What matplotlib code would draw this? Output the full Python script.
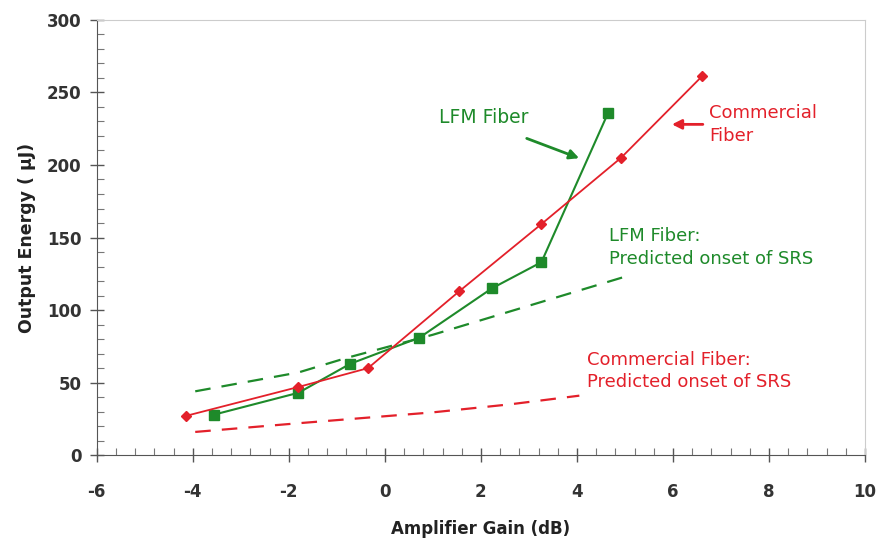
import matplotlib
matplotlib.use('Agg')
import matplotlib.pyplot as plt
from matplotlib.ticker import MultipleLocator

plt.rcParams['font.family'] = ['DejaVu Sans']
plt.rcParams['axes.unicode_minus'] = False

red = '#e3202a'
green = '#1e8a2a'

# measured output energy vs amplifier gain
comm_gain = [-4.15, -1.8, -0.35, 1.55, 3.25, 4.92, 6.6]
comm_energy = [27, 47, 60, 113, 159, 205, 261]

lfm_gain = [-3.55, -1.8, -0.72, 0.72, 2.23, 3.26, 4.65]
lfm_energy = [28, 43, 63, 81, 115, 133, 236]

# predicted SRS onset curves
lfm_srs_gain = [-3.95, -1.8, -0.8, 1.0, 2.6, 5.1]
lfm_srs_energy = [44, 57, 67, 83, 99, 124]

comm_srs_gain = [-3.95, -1.8, 1.0, 2.6, 4.05]
comm_srs_energy = [16, 22, 29.5, 35, 41]

fig = plt.figure(figsize=(8.8, 5.38), dpi=100)
ax = fig.add_axes([0.110, 0.154, 0.873, 0.809])

ax.plot(lfm_srs_gain, lfm_srs_energy, '--', color=green, lw=1.6, dashes=(7, 5))
ax.plot(comm_srs_gain, comm_srs_energy, '--', color=red, lw=1.6, dashes=(7, 5))
ax.plot(lfm_gain, lfm_energy, '-s', color=green, lw=1.5, ms=7)
ax.plot(comm_gain, comm_energy, '-D', color=red, lw=1.3, ms=5)

ax.set_xlim(-6, 10)
ax.set_ylim(0, 300)
ax.xaxis.set_major_locator(MultipleLocator(2))
ax.xaxis.set_minor_locator(MultipleLocator(0.4))
ax.yaxis.set_major_locator(MultipleLocator(50))
ax.yaxis.set_minor_locator(MultipleLocator(10))
ax.tick_params(which='major', direction='inout', length=10, width=1, color='#555555',
               labelsize=12, pad=6)
ax.tick_params(which='minor', direction='in', length=5, width=0.8, color='#777777')
ax.tick_params(axis='x', which='major', pad=15)
for lbl in ax.get_xticklabels() + ax.get_yticklabels():
    lbl.set_fontweight('bold')
    lbl.set_color('#333333')

for s in ['left', 'bottom']:
    ax.spines[s].set_color('#555555')
for s in ['top', 'right']:
    ax.spines[s].set_color('#cccccc')

ax.set_xlabel('Amplifier Gain (dB)', fontsize=12, fontweight='bold', color='#222222', labelpad=14)
ax.set_ylabel('Output Energy ( μJ)', fontsize=12.5, fontweight='bold', color='#222222', labelpad=8)

ax.text(2.05, 233, 'LFM Fiber', color=green, fontsize=13.5, ha='center', va='center')
ax.annotate('', xy=(4.1, 204), xytext=(2.9, 219),
            arrowprops=dict(arrowstyle='-|>', color=green, lw=2, mutation_scale=14))

ax.text(6.75, 228, 'Commercial\nFiber', color=red, fontsize=13, ha='left', va='center',
        linespacing=1.35)
ax.annotate('', xy=(5.92, 228), xytext=(6.68, 228),
            arrowprops=dict(arrowstyle='-|>', color=red, lw=2, mutation_scale=14))

ax.text(4.67, 143, 'LFM Fiber:\nPredicted onset of SRS', color=green, fontsize=13,
        ha='left', va='center', linespacing=1.35)
ax.text(4.2, 58, 'Commercial Fiber:\nPredicted onset of SRS', color=red, fontsize=13,
        ha='left', va='center', linespacing=1.35)

fig.savefig('out.png', dpi=100)
